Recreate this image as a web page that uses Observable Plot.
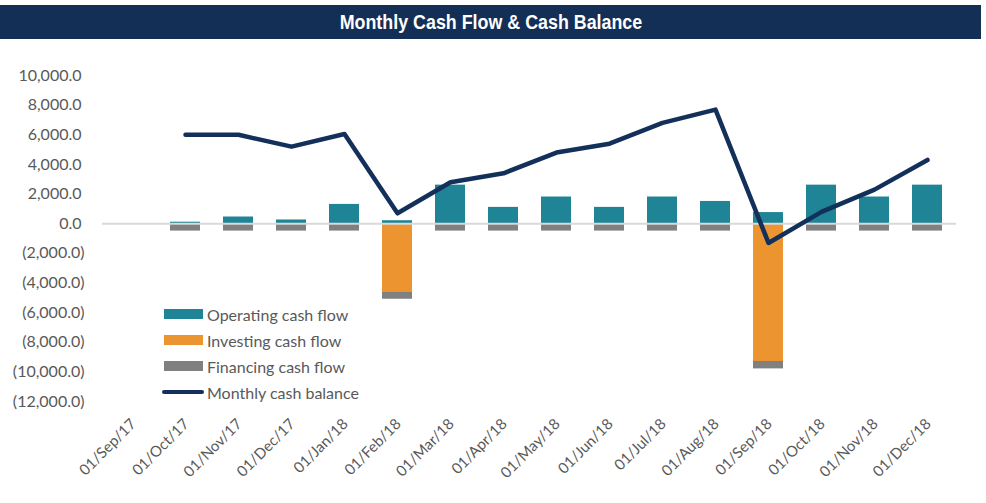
<!DOCTYPE html>
<html><head><meta charset="utf-8">
<script src="https://cdn.jsdelivr.net/npm/d3@7"></script>
<script src="https://cdn.jsdelivr.net/npm/@observablehq/plot@0.6"></script>
<style>
body{margin:0;background:#fff;width:986px;height:503px;overflow:hidden;position:relative;font-family:Lato,"Noto Sans",sans-serif;}
#title{position:absolute;left:0;top:5px;width:981px;height:34px;background:#142F56;color:#fff;font-family:"Liberation Sans Narrow","Arial Narrow","Liberation Sans",sans-serif;font-weight:bold;font-size:21px;line-height:34px;text-align:center;}
#title span{display:inline-block;transform:scaleX(0.85);transform-origin:center;}
#chart{position:absolute;left:0;top:40px;}
#legend{position:absolute;left:162px;top:301px;color:#595959;font-size:16px;}
.row{display:flex;align-items:center;height:26px;}
.sw{width:39px;height:10px;margin-left:2px;margin-right:4px;}
.ln{width:42px;height:4px;border-radius:2px;margin-right:3px;}
</style></head>
<body>
<div id="title"><span>Monthly Cash Flow &amp; Cash Balance</span></div>
<div id="chart"></div>
<div id="legend"></div>
<script>
const months = ["01/Sep/17","01/Oct/17","01/Nov/17","01/Dec/17","01/Jan/18","01/Feb/18","01/Mar/18","01/Apr/18","01/May/18","01/Jun/18","01/Jul/18","01/Aug/18","01/Sep/18","01/Oct/18","01/Nov/18","01/Dec/18"];
const operating = [null,100,450,250,1300,200,2600,1100,1800,1100,1800,1500,750,2600,1800,2600];
const investing = [null,0,0,0,0,-4600,0,0,0,0,0,0,-9300,0,0,0];
const financing = [null,-500,-500,-500,-500,-500,-500,-500,-500,-500,-500,-500,-500,-500,-500,-500];
const balance = [null,6000,6000,5200,6050,700,2800,3400,4800,5400,6800,7700,-1300,800,2300,4300];
const seriesNames = ["Operating cash flow","Investing cash flow","Financing cash flow","Monthly cash balance"];
const colors = ["#1F8496","#EC9430","#808080","#13305A"];
const yTicks = [10000,8000,6000,4000,2000,0,-2000,-4000,-6000,-8000,-10000,-12000];

const flows = [];
months.forEach((m,i)=>{
  [operating,investing,financing].forEach((arr,k)=>{
    if (arr[i] !== null) flows.push({month:m, series:seriesNames[k], value:arr[i]});
  });
});
const bal = months.map((m,i)=>({month:m, value:balance[i]})).filter(d=>d.value!==null);

const fmt = d3.format(",.1f");
const tickFmt = v => v < 0 ? `(${fmt(-v)})` : fmt(v);

const chart = Plot.plot({
  width: 986,
  height: 463,
  marginLeft: 102,
  marginRight: 30,
  marginTop: 35,
  marginBottom: 102,
  style: {fontFamily: "Lato, 'Noto Sans', sans-serif", fontSize: "16px", color: "#595959", background: "transparent"},
  x: {type: "band", domain: months, paddingInner: 0.44, paddingOuter: 0.22, label: null},
  y: {domain: [-12000, 10000], label: null},
  color: {domain: seriesNames, range: colors},
  marks: [
    Plot.axisY(yTicks.filter(v=>v>=0), {tickSize: 0, tickPadding: 21, tickFormat: tickFmt, label: null, fill: "#595959"}),
    Plot.axisY(yTicks.filter(v=>v<0), {tickSize: 0, tickPadding: 18, tickFormat: tickFmt, label: null, fill: "#595959"}),
    Plot.axisX(months, {tickSize: 0, tickPadding: 20, tickRotate: -45, label: null, fill: "#595959", dx: 1, fontSize: 15}),
    Plot.barY(flows, Plot.stackY({x: "month", y: "value", fill: "series", inset: 0})),
    Plot.ruleY([0], {stroke: "#D9D9D9", strokeWidth: 2}),
    Plot.line(bal, {x: "month", y: "value", stroke: colors[3], strokeWidth: 4.5, strokeLinecap: "round", strokeLinejoin: "round"})
  ]
});
document.getElementById("chart").appendChild(chart);

const leg = document.getElementById("legend");
seriesNames.forEach((n,i)=>{
  const row = document.createElement("div");
  row.className = "row";
  const sw = document.createElement("div");
  sw.className = i === 3 ? "ln" : "sw";
  sw.style.background = colors[i];
  const t = document.createElement("span");
  t.textContent = n;
  row.appendChild(sw); row.appendChild(t);
  leg.appendChild(row);
});
</script>
</body></html>
